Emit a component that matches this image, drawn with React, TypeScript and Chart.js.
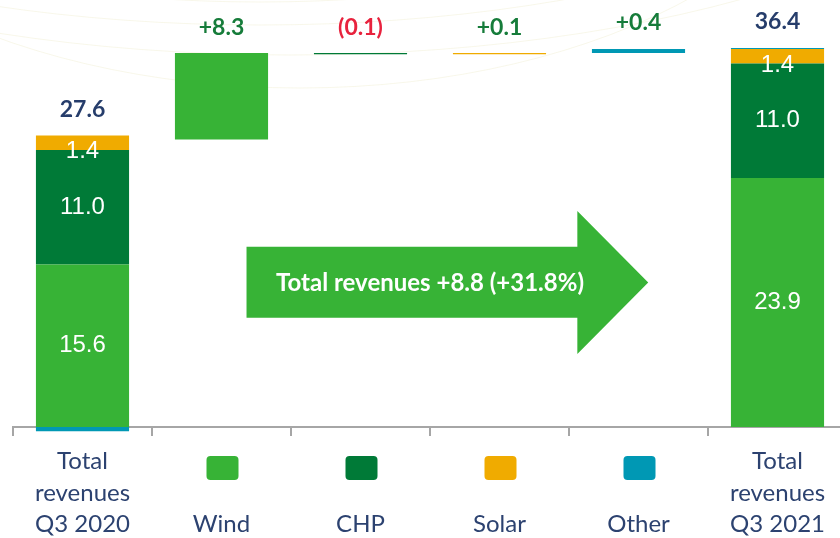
import React, { useEffect, useRef } from "react";
import { Chart, registerables } from "chart.js";

Chart.register(...registerables);

// ---- data ----
const categories: string[][] = [
  ["Total", "revenues", "Q3 2020"],
  ["", "", "Wind"],
  ["", "", "CHP"],
  ["", "", "Solar"],
  ["", "", "Other"],
  ["Total", "revenues", "Q3 2021"],
];
const baseValues = [null, 27.6, 35.8, 35.8, 35.9, null];
const windValues = [15.6, 8.3, null, null, null, 23.9];
const chpValues = [11.0, null, 0.1, null, null, 11.0];
const solarValues = [1.4, null, null, 0.1, null, 1.4];
const otherValues = [-0.4, null, null, null, 0.4, 0.1];
const topLabels = ["27.6", "+8.3", "(0.1)", "+0.1", "+0.4", "36.4"];
const topLabelKinds = ["total", "up", "down", "up", "up", "total"];
const totalCategories = [0, 5];
const legendCategories = [1, 2, 3, 4];
const arrowText = "Total revenues +8.8 (+31.8%)";

// ---- styles ----
const C_WIND = "#37b336";
const C_CHP = "#007a37";
const C_SOLAR = "#f0ab00";
const C_OTHER = "#0098b4";
const C_NAVY = "#263d6b";
const C_UP = "#167c3a";
const C_DOWN = "#e8223d";
const seriesColors = [C_WIND, C_CHP, C_SOLAR, C_OTHER];
const kindColors: Record<string, string> = { total: C_NAVY, up: C_UP, down: C_DOWN };

const decorPlugin = {
  id: "decor",
  beforeDatasetsDraw(chart: any) {
    const ctx = chart.ctx;
    ctx.save();
    ctx.strokeStyle = "rgba(236, 232, 196, 0.35)";
    ctx.lineWidth = 1;
    const arcs = [
      [260, -230, 600, 232],
      [260, -230, 700, 255],
      [290, -230, 760, 285],
      [300, -230, 560, 318],
    ];
    for (const [cx, cy, rx, ry] of arcs) {
      ctx.beginPath();
      ctx.ellipse(cx, cy, rx, ry, 0, 0, Math.PI);
      ctx.stroke();
    }
    ctx.restore();
  },
};

const annotatePlugin = {
  id: "annotate",
  afterDatasetsDraw(chart: any) {
    const ctx = chart.ctx;
    const xs = chart.scales.x;
    const ys = chart.scales.y;
    const w = xs.getPixelForValue(1) - xs.getPixelForValue(0);

    // arrow
    const startX = xs.getPixelForValue(1) + 0.18 * w;
    const headX = xs.getPixelForValue(4) - 0.44 * w;
    const tipX = xs.getPixelForValue(4) + 0.07 * w;
    const sTop = ys.getPixelForValue(17.3);
    const sBot = ys.getPixelForValue(10.5);
    const hTop = ys.getPixelForValue(20.75);
    const hBot = ys.getPixelForValue(7.0);
    const mid = (hTop + hBot) / 2;
    ctx.save();
    ctx.fillStyle = C_WIND;
    ctx.beginPath();
    ctx.moveTo(startX, sTop);
    ctx.lineTo(headX, sTop);
    ctx.lineTo(headX, hTop);
    ctx.lineTo(tipX, mid);
    ctx.lineTo(headX, hBot);
    ctx.lineTo(headX, sBot);
    ctx.lineTo(startX, sBot);
    ctx.closePath();
    ctx.fill();
    ctx.fillStyle = "#ffffff";
    ctx.font = "bold 24px Lato";
    ctx.textAlign = "center";
    ctx.textBaseline = "middle";
    ctx.fillText(arrowText, xs.getPixelForValue(2) + 0.5 * w, mid + 1);
    ctx.restore();

    // segment labels on total bars
    ctx.save();
    ctx.fillStyle = "#ffffff";
    ctx.font = "24px 'Liberation Sans', Arial";
    ctx.textAlign = "center";
    ctx.textBaseline = "middle";
    for (const ci of totalCategories) {
      for (let d = 1; d <= 3; d++) {
        const meta = chart.getDatasetMeta(d);
        const el = meta.data[ci];
        const v = chart.data.datasets[d].data[ci];
        if (v == null || !el) continue;
        const top = Math.min(el.y, el.base);
        const bot = Math.max(el.y, el.base);
        const y = Math.max((top + bot) / 2, top + 16);
        ctx.fillText(Number(v).toFixed(1), el.x, y);
      }
    }
    ctx.restore();

    // top labels
    ctx.save();
    ctx.font = "bold 23px Lato";
    ctx.textAlign = "center";
    ctx.textBaseline = "middle";
    for (let ci = 0; ci < topLabels.length; ci++) {
      let top = Infinity;
      const x = xs.getPixelForValue(ci);
      for (let d = 1; d <= 4; d++) {
        const el = chart.getDatasetMeta(d).data[ci];
        const v = chart.data.datasets[d].data[ci];
        if (v == null || !el) continue;
        top = Math.min(top, el.y, el.base);
      }
      ctx.fillStyle = kindColors[topLabelKinds[ci]];
      ctx.fillText(topLabels[ci], x, top - 26);
    }
    ctx.restore();
  },
  afterDraw(chart: any) {
    const ctx = chart.ctx;
    const xs = chart.scales.x;
    ctx.save();
    legendCategories.forEach((ci, k) => {
      const cx = xs.getPixelForValue(ci) + 1;
      ctx.fillStyle = seriesColors[k];
      ctx.beginPath();
      (ctx as any).roundRect(cx - 16, 456, 32, 24, 4);
      ctx.fill();
    });
    ctx.restore();
  },
};

export default function App() {
  const ref = useRef<HTMLCanvasElement | null>(null);
  useEffect(() => {
    document.body.style.margin = "0";
    document.body.style.background = "#ffffff";
    const canvas = ref.current!;
    const ds = (label: string, data: (number | null)[], color: string) => ({
      label,
      data,
      backgroundColor: color,
      borderWidth: 0,
      barPercentage: 0.67,
      categoryPercentage: 1,
      clip: false as any,
    });
    const chart = new Chart(canvas, {
      type: "bar",
      data: {
        labels: categories as any,
        datasets: [
          ds("Base", baseValues, "rgba(0,0,0,0)"),
          ds("Wind", windValues, C_WIND),
          ds("CHP", chpValues, C_CHP),
          ds("Solar", solarValues, C_SOLAR),
          ds("Other", otherValues, C_OTHER),
        ],
      },
      options: {
        animation: false,
        responsive: false,
        devicePixelRatio: 1,
        layout: { padding: { left: 13, right: 13, top: 0, bottom: 0 } },
        plugins: { legend: { display: false }, tooltip: { enabled: false } },
        scales: {
          x: {
            stacked: true,
            z: 1,
            grid: {
              display: true,
              drawOnChartArea: false,
              drawTicks: true,
              tickLength: 9,
              color: "#a6a6a6",
              lineWidth: 2,
              offset: true,
            },
            border: { display: true, color: "#a6a6a6", width: 2 },
            ticks: {
              autoSkip: false,
              maxRotation: 0,
              minRotation: 0,
              padding: 10,
              color: "#2c4270",
              font: { family: "Lato", size: 24, lineHeight: 1.31 },
            },
            afterFit: (scale: any) => {
              scale.height = 111;
            },
          },
          y: {
            stacked: true,
            display: false,
            min: 0,
            max: 41,
          },
        },
      },
      plugins: [decorPlugin, annotatePlugin],
    });
    return () => chart.destroy();
  }, []);
  return (
    <div style={{ position: "fixed", left: 0, top: 0, width: 840, height: 538, overflow: "hidden", background: "#fff" }}>
      <canvas ref={ref} width={860} height={538} />
    </div>
  );
}
